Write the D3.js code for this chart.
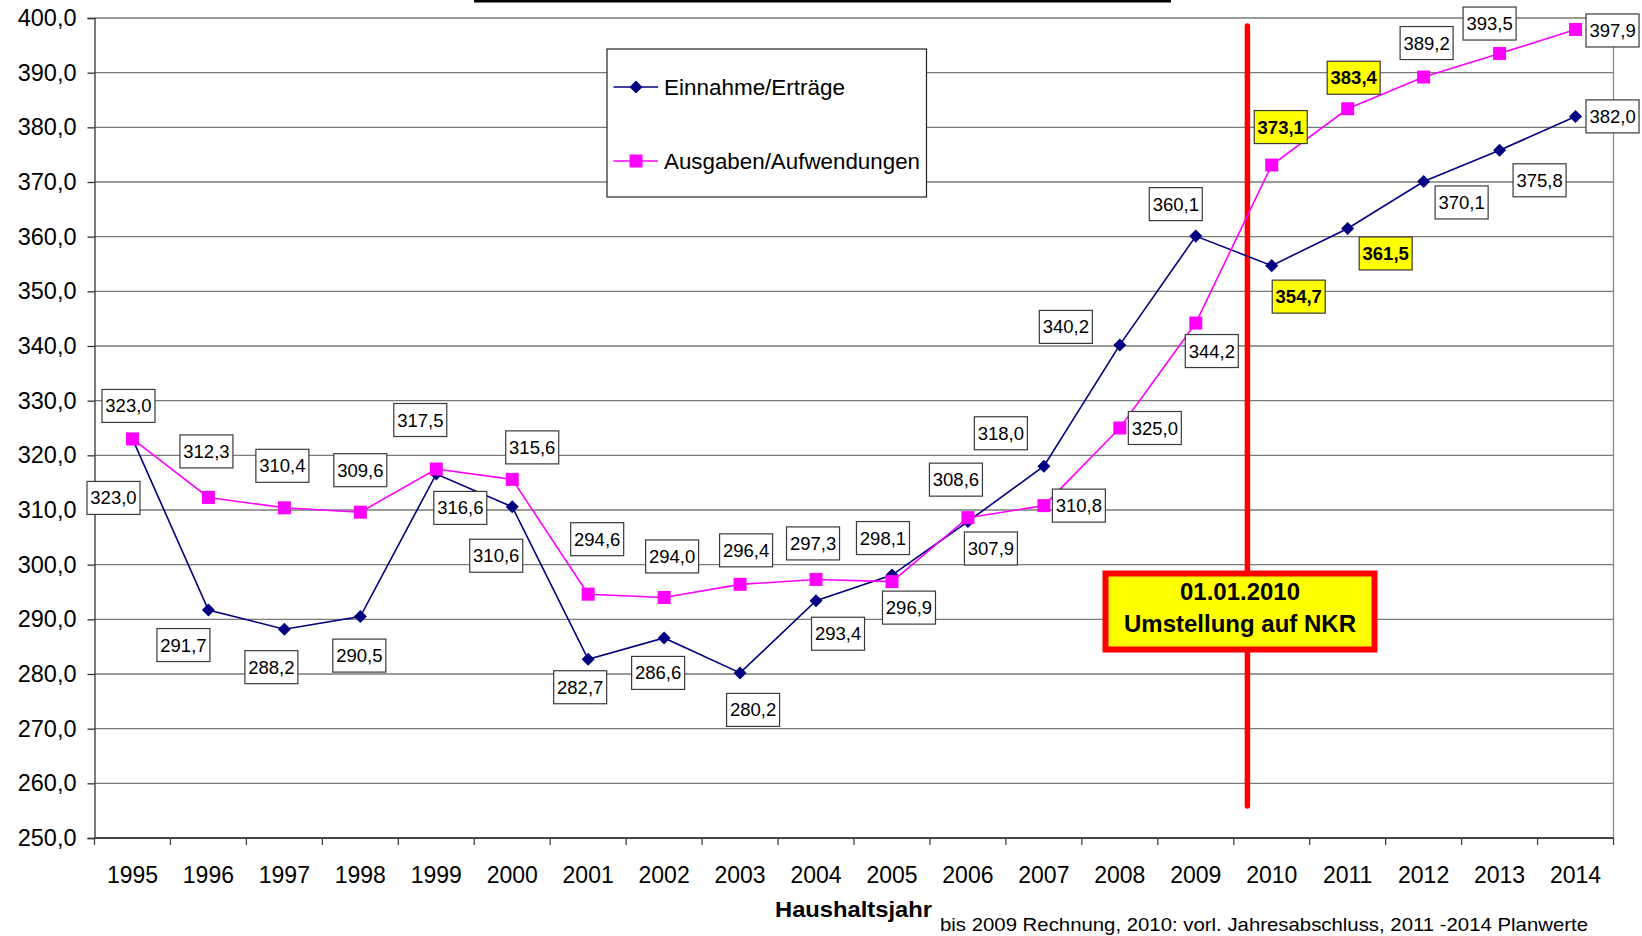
<!DOCTYPE html>
<html>
<head>
<meta charset="utf-8">
<script src="https://cdn.jsdelivr.net/npm/d3@7"></script>
<style>
  body { margin: 0; background: #fff; }
  svg { display: block; font-family: "Liberation Sans", Arial, sans-serif; }
</style>
</head>
<body>
<svg id="chart" width="1642" height="936"></svg>
<script>
// data
var years = ["1995","1996","1997","1998","1999","2000","2001","2002","2003","2004",
             "2005","2006","2007","2008","2009","2010","2011","2012","2013","2014"];
var einnahmen = [323.0, 291.7, 288.2, 290.5, 316.6, 310.6, 282.7, 286.6, 280.2, 293.4,
                 298.1, 307.9, 318.0, 340.2, 360.1, 354.7, 361.5, 370.1, 375.8, 382.0];
var ausgaben = [323.0, 312.3, 310.4, 309.6, 317.5, 315.6, 294.6, 294.0, 296.4, 297.3,
                296.9, 308.6, 310.8, 325.0, 344.2, 373.1, 383.4, 389.2, 393.5, 397.9];
var yTicks = [250, 260, 270, 280, 290, 300, 310, 320, 330, 340, 350, 360, 370, 380, 390, 400];
var highlightYears = ["2010", "2011"];
var seriesNames = ["Einnahme/Erträge", "Ausgaben/Aufwendungen"];
var xTitle = "Haushaltsjahr";
var xSubtitle = "bis 2009 Rechnung, 2010: vorl. Jahresabschluss, 2011 -2014 Planwerte";
var noteLines = ["01.01.2010", "Umstellung auf NKR"];

// label placement relative to the point (layout only)
var einOffsets = [[-19,59],[-25,35],[-13,38],[-1,39],[24,34],[-16,49],[-8,28],[-6,35],[13,37],[22,33],
                  [-9,-37],[23,27],[-43,-33],[-54,-18],[-20,-32],[27,31],[38,25],[38,21],[40,30],[37,0]];
var ausOffsets = [[-4,-33],[-2,-46],[-2,-42],[0,-42],[-16,-49],[20,-32],[9,-55],[8,-41],[6,-34],[-3,-36],
                  [17,26],[-12,-38],[35,0],[35,0],[16,28],[9,-38],[6,-31],[3,-34],[-10,-30],[37,1]];

var svg = d3.select("svg#chart");
var plotL = 94.5, plotR = 1613.5, plotT = 18, plotB = 838;

var x = d3.scaleBand().domain(years).range([plotL, plotR]).padding(0);
var y = d3.scaleLinear().domain([250, 400]).range([plotB, plotT]);
var de = d3.formatLocale({decimal: ",", thousands: ".", grouping: [3], currency: ["", " €"]});
var fmt = de.format(".1f");
var cx = function(d, i) { return x(years[i]) + x.bandwidth() / 2; };

// title underline (title itself is cut off)
svg.append("rect").attr("x", 474).attr("y", 0).attr("width", 697).attr("height", 2.5).attr("fill", "#000");

// gridlines
svg.append("g").selectAll("line")
  .data(yTicks).enter().append("line")
  .attr("x1", plotL).attr("x2", plotR)
  .attr("y1", function(d) { return y(d); }).attr("y2", function(d) { return y(d); })
  .attr("stroke", "#7a7a7a").attr("stroke-width", 1.3);

// right border
svg.append("line").attr("x1", plotR).attr("x2", plotR).attr("y1", plotT).attr("y2", plotB)
  .attr("stroke", "#8a8a8a").attr("stroke-width", 1.3);

// y axis
var yAxis = d3.axisLeft(y).tickValues(yTicks).tickFormat(fmt).tickSize(7).tickPadding(11);
var gy = svg.append("g").attr("transform", "translate(" + plotL + ",0)").call(yAxis);
gy.select(".domain").attr("stroke", "#333").attr("stroke-width", 1.3);
gy.selectAll(".tick line").attr("stroke", "#333").attr("stroke-width", 1.3);
gy.selectAll("text").attr("font-size", 23.5).attr("fill", "#000")
  .attr("font-family", "Liberation Sans, Arial, sans-serif");

// x axis: ticks between categories
var gx = svg.append("g").attr("transform", "translate(0," + plotB + ")");
gx.append("line").attr("x1", plotL).attr("x2", plotR).attr("stroke", "#444").attr("stroke-width", 2);
gx.selectAll("line.tk").data(years.concat(["end"])).enter().append("line").attr("class", "tk")
  .attr("x1", function(d, i) { return plotL + i * x.bandwidth(); })
  .attr("x2", function(d, i) { return plotL + i * x.bandwidth(); })
  .attr("y1", 0).attr("y2", 7).attr("stroke", "#444").attr("stroke-width", 1.3);
gx.selectAll("text").data(years).enter().append("text")
  .attr("x", function(d) { return x(d) + x.bandwidth() / 2; })
  .attr("y", 45).attr("text-anchor", "middle").attr("font-size", 23)
  .text(function(d) { return d; });

svg.append("text").attr("x", 775).attr("y", 917).attr("font-size", 22).attr("font-weight", "bold")
  .attr("textLength", 157).attr("lengthAdjust", "spacingAndGlyphs").text(xTitle);
svg.append("text").attr("x", 940).attr("y", 931).attr("font-size", 19)
  .attr("textLength", 648).attr("lengthAdjust", "spacingAndGlyphs").text(xSubtitle);

// red changeover line
var redX = x("2010") + 0.18 * x.bandwidth();
svg.append("line").attr("x1", redX).attr("x2", redX).attr("y1", 26).attr("y2", 806)
  .attr("stroke", "#ff0000").attr("stroke-width", 5.5).attr("stroke-linecap", "round");

// series: Einnahmen first, Ausgaben on top
var line = d3.line().x(cx).y(function(d) { return y(d); });
var diamond = d3.symbol().type(d3.symbolSquare).size(85);

svg.append("path").datum(einnahmen).attr("d", line)
  .attr("fill", "none").attr("stroke", "#000080").attr("stroke-width", 1.6);
svg.append("g").selectAll("path").data(einnahmen).enter().append("path")
  .attr("d", diamond)
  .attr("transform", function(d, i) { return "translate(" + cx(d, i) + "," + y(d) + ") rotate(45)"; })
  .attr("fill", "#000080");

svg.append("path").datum(ausgaben).attr("d", line)
  .attr("fill", "none").attr("stroke", "#ff00ff").attr("stroke-width", 1.6);
svg.append("g").selectAll("rect").data(ausgaben).enter().append("rect")
  .attr("x", function(d, i) { return cx(d, i) - 6.5; })
  .attr("y", function(d) { return y(d) - 6.5; })
  .attr("width", 13).attr("height", 13).attr("fill", "#ff00ff");

// data labels
function drawLabels(values, offsets) {
  var g = svg.append("g").selectAll("g").data(values).enter().append("g")
    .attr("transform", function(d, i) {
      return "translate(" + (cx(d, i) + offsets[i][0]) + "," + (y(d) + offsets[i][1]) + ")";
    });
  g.append("rect").attr("x", -26.5).attr("y", -16.5).attr("width", 53).attr("height", 33)
    .attr("fill", function(d, i) { return highlightYears.indexOf(years[i]) >= 0 ? "#ffff00" : "#fff"; })
    .attr("stroke", "#3a3a3a").attr("stroke-width", 1.2);
  g.append("text").attr("text-anchor", "middle").attr("y", 6.5).attr("font-size", 18.5)
    .attr("font-weight", function(d, i) { return highlightYears.indexOf(years[i]) >= 0 ? "bold" : "normal"; })
    .text(function(d) { return fmt(d); });
}
drawLabels(ausgaben, ausOffsets);
drawLabels(einnahmen, einOffsets);

// note box
var note = svg.append("g");
note.append("rect").attr("x", 1105.5).attr("y", 573.5).attr("width", 269).attr("height", 76)
  .attr("fill", "#ffff00").attr("stroke", "#ff0000").attr("stroke-width", 6);
note.selectAll("text").data(noteLines).enter().append("text")
  .attr("x", 1240).attr("y", function(d, i) { return 600 + i * 31.5; })
  .attr("text-anchor", "middle").attr("font-size", 23).attr("font-weight", "bold")
  .attr("textLength", function(d, i) { return i === 0 ? 120 : 232; })
  .attr("lengthAdjust", "spacingAndGlyphs")
  .text(function(d) { return d; });

// legend
var legend = svg.append("g");
legend.append("rect").attr("x", 607).attr("y", 49).attr("width", 319.5).attr("height", 148)
  .attr("fill", "#fff").attr("stroke", "#222").attr("stroke-width", 1.2);
var items = legend.selectAll("g.item").data(seriesNames).enter().append("g").attr("class", "item")
  .attr("transform", function(d, i) { return "translate(0," + (87 + i * 74) + ")"; });
items.append("line").attr("x1", 613.5).attr("x2", 658)
  .attr("stroke", function(d, i) { return i === 0 ? "#000080" : "#ff00ff"; }).attr("stroke-width", 1.6);
items.filter(function(d, i) { return i === 0; }).append("path").attr("d", diamond)
  .attr("transform", "translate(636,0) rotate(45)").attr("fill", "#000080");
items.filter(function(d, i) { return i === 1; }).append("rect")
  .attr("x", 629.5).attr("y", -6.5).attr("width", 13).attr("height", 13).attr("fill", "#ff00ff");
items.append("text").attr("x", 664).attr("y", 7.5).attr("font-size", 21.5)
  .attr("textLength", function(d, i) { return i === 0 ? 181 : 256; })
  .attr("lengthAdjust", "spacingAndGlyphs")
  .text(function(d) { return d; });
</script>
</body>
</html>
